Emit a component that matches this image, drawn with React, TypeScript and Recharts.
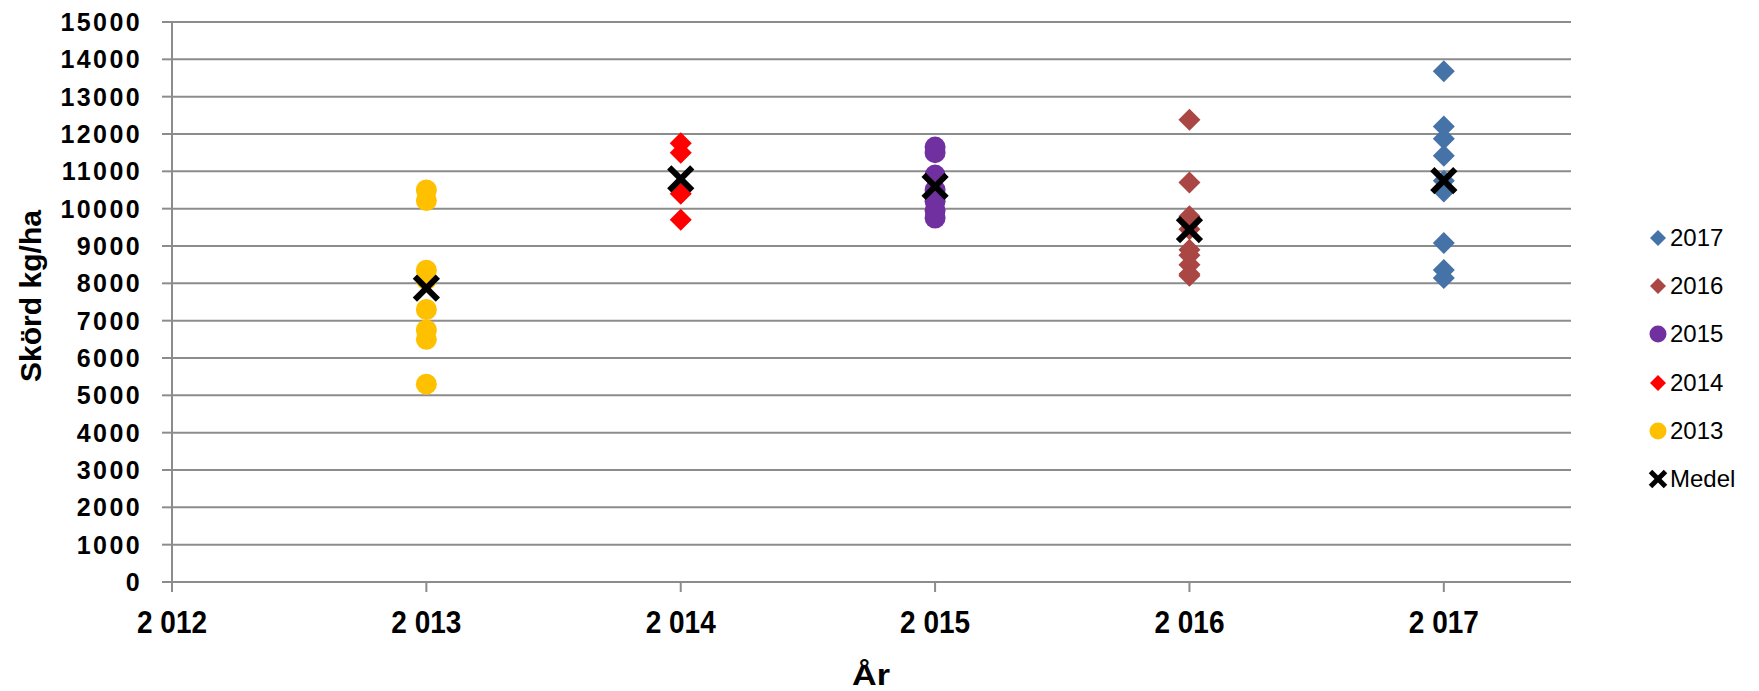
import React from 'react';
import { ScatterChart, Scatter, XAxis, YAxis, CartesianGrid, Legend } from 'recharts';

const years = [2013, 2014, 2015, 2016, 2017];
const xTicks = [2012, 2013, 2014, 2015, 2016, 2017];
const yTicks = [0, 1000, 2000, 3000, 4000, 5000, 6000, 7000, 8000, 9000, 10000, 11000, 12000, 13000, 14000, 15000];

const yield2013 = [10500, 10220, 8350, 8100, 7300, 6750, 6500, 5300];
const yield2014 = [11750, 11500, 10400, 9700];
const yield2015 = [11650, 11500, 10900, 10500, 10200, 9950, 9750];
const yield2016 = [12380, 10700, 9800, 9450, 8900, 8750, 8500, 8250, 8200];
const yield2017 = [13680, 12200, 11870, 11420, 10750, 10460, 9080, 8360, 8140];
const medel = [7870, 10800, 10600, 9440, 10750];

const seriesNames = ['2017', '2016', '2015', '2014', '2013', 'Medel'];
const colors: Record<string, string> = {
  '2017': '#4572A7',
  '2016': '#AA4643',
  '2015': '#7030A0',
  '2014': '#FF0000',
  '2013': '#FFC000',
  Medel: '#000000',
};
const markerKind: Record<string, string> = {
  '2017': 'diamond',
  '2016': 'diamond',
  '2015': 'circle',
  '2014': 'diamond',
  '2013': 'circle',
  Medel: 'cross',
};

const toPoints = (year: number, vals: number[]) => vals.map((v) => ({ x: year, y: v }));
const data2013 = toPoints(2013, yield2013);
const data2014 = toPoints(2014, yield2014);
const data2015 = toPoints(2015, yield2015);
const data2016 = toPoints(2016, yield2016);
const data2017 = toPoints(2017, yield2017);
const dataMedel = years.map((yr, i) => ({ x: yr, y: medel[i] }));

const GRID = '#8c8c8c';

const makeShape = (kind: string, color: string) => (props: any) => {
  const { cx, cy } = props;
  if (cx == null || cy == null) return <g />;
  if (kind === 'diamond') {
    const r = 11;
    return (
      <polygon
        points={`${cx},${cy - r} ${cx + r},${cy} ${cx},${cy + r} ${cx - r},${cy}`}
        fill={color}
      />
    );
  }
  if (kind === 'circle') {
    return <circle cx={cx} cy={cy} r={10.5} fill={color} />;
  }
  const d = 11.5;
  return (
    <g stroke={color} strokeWidth={6}>
      <line x1={cx - d} y1={cy - d} x2={cx + d} y2={cy + d} />
      <line x1={cx - d} y1={cy + d} x2={cx + d} y2={cy - d} />
    </g>
  );
};

const fmtYear = (v: number) => {
  const s = String(v);
  return s.length === 4 ? s[0] + ' ' + s.slice(1) : s;
};

const XTick = (props: any) => {
  const { x, y, payload } = props;
  return (
    <text
      x={x}
      y={y}
      dy={41}
      textAnchor="middle"
      fontFamily="'Liberation Sans', Arial, sans-serif"
      fontWeight="bold"
      fontSize={31}
      textLength={70}
      lengthAdjust="spacingAndGlyphs"
      fill="#000"
    >
      {fmtYear(payload.value)}
    </text>
  );
};

const YTick = (props: any) => {
  const { x, y, payload } = props;
  return (
    <text
      x={x}
      y={y}
      dy={9}
      textAnchor="end"
      fontFamily="'Liberation Sans', Arial, sans-serif"
      fontWeight="bold"
      fontSize={25}
      letterSpacing={2.4}
      fill="#000"
    >
      {payload.value}
    </text>
  );
};

const LegendMarker = ({ kind, color }: { kind: string; color: string }) => {
  if (kind === 'diamond') {
    return (
      <svg width={18} height={18} style={{ display: 'block' }}>
        <polygon points="9,1 17,9 9,17 1,9" fill={color} />
      </svg>
    );
  }
  if (kind === 'circle') {
    return (
      <svg width={18} height={18} style={{ display: 'block' }}>
        <circle cx={9} cy={9} r={8.5} fill={color} />
      </svg>
    );
  }
  return (
    <svg width={20} height={20} style={{ display: 'block' }}>
      <g stroke={color} strokeWidth={5}>
        <line x1={2.5} y1={2.5} x2={17.5} y2={17.5} />
        <line x1={2.5} y1={17.5} x2={17.5} y2={2.5} />
      </g>
    </svg>
  );
};

const CustomLegend = () => (
  <div style={{ fontFamily: "'Liberation Sans', Arial, sans-serif", fontSize: 24, color: '#000' }}>
    {seriesNames.map((name) => (
      <div key={name} style={{ height: 48.2, display: 'flex', alignItems: 'center' }}>
        <div style={{ width: 24, display: 'flex', justifyContent: 'center' }}>
          <LegendMarker kind={markerKind[name]} color={colors[name]} />
        </div>
        <span style={{ marginLeft: 0 }}>{name}</span>
      </div>
    ))}
  </div>
);

export default function App() {
  return (
    <div style={{ position: 'absolute', left: 0, top: 0, width: 1759, height: 691, background: '#fff' }}>
      <ScatterChart width={1759} height={691} margin={{ top: 22, right: 74, bottom: 0, left: 0 }}>
        <CartesianGrid horizontal vertical={false} stroke={GRID} strokeWidth={2} />
        <XAxis
          type="number"
          dataKey="x"
          domain={[2012, 2017.5]}
          allowDataOverflow
          tickCount={12}
          ticks={xTicks}
          interval={0}
          allowDecimals
          height={109}
          tickSize={10}
          tickMargin={0}
          stroke={GRID}
          strokeWidth={2}
          tick={<XTick />}
          tickLine={{ stroke: GRID, strokeWidth: 2 }}
          label={{
            content: () => (
              <text
                x={871}
                y={685}
                textAnchor="middle"
                fontFamily="'Liberation Sans', Arial, sans-serif"
                fontWeight="bold"
                fontSize={29}
                textLength={38}
                lengthAdjust="spacingAndGlyphs"
                fill="#000"
              >
                År
              </text>
            ),
          }}
        />
        <YAxis
          type="number"
          dataKey="y"
          domain={[0, 15000]}
          allowDataOverflow
          ticks={yTicks}
          interval={0}
          width={172}
          tickSize={10}
          tickMargin={20}
          stroke={GRID}
          strokeWidth={2}
          tick={<YTick />}
          tickLine={{ stroke: GRID, strokeWidth: 2 }}
          label={{
            content: () => (
              <text
                transform="translate(41, 296) rotate(-90)"
                x={0}
                y={0}
                textAnchor="middle"
                fontFamily="'Liberation Sans', Arial, sans-serif"
                fontWeight="bold"
                fontSize={29}
                textLength={172}
                lengthAdjust="spacingAndGlyphs"
                fill="#000"
              >
                Skörd kg/ha
              </text>
            ),
          }}
        />
        <Legend
          layout="horizontal"
          verticalAlign="middle"
          align="right"
          wrapperStyle={{ left: 1646, top: 214, width: 114 }}
          content={() => <CustomLegend />}
        />
        <Scatter name="2017" data={data2017} isAnimationActive={false} shape={makeShape('diamond', colors['2017'])} />
        <Scatter name="2016" data={data2016} isAnimationActive={false} shape={makeShape('diamond', colors['2016'])} />
        <Scatter name="2015" data={data2015} isAnimationActive={false} shape={makeShape('circle', colors['2015'])} />
        <Scatter name="2014" data={data2014} isAnimationActive={false} shape={makeShape('diamond', colors['2014'])} />
        <Scatter name="2013" data={data2013} isAnimationActive={false} shape={makeShape('circle', colors['2013'])} />
        <Scatter name="Medel" data={dataMedel} isAnimationActive={false} shape={makeShape('cross', colors.Medel)} />
      </ScatterChart>
    </div>
  );
}
